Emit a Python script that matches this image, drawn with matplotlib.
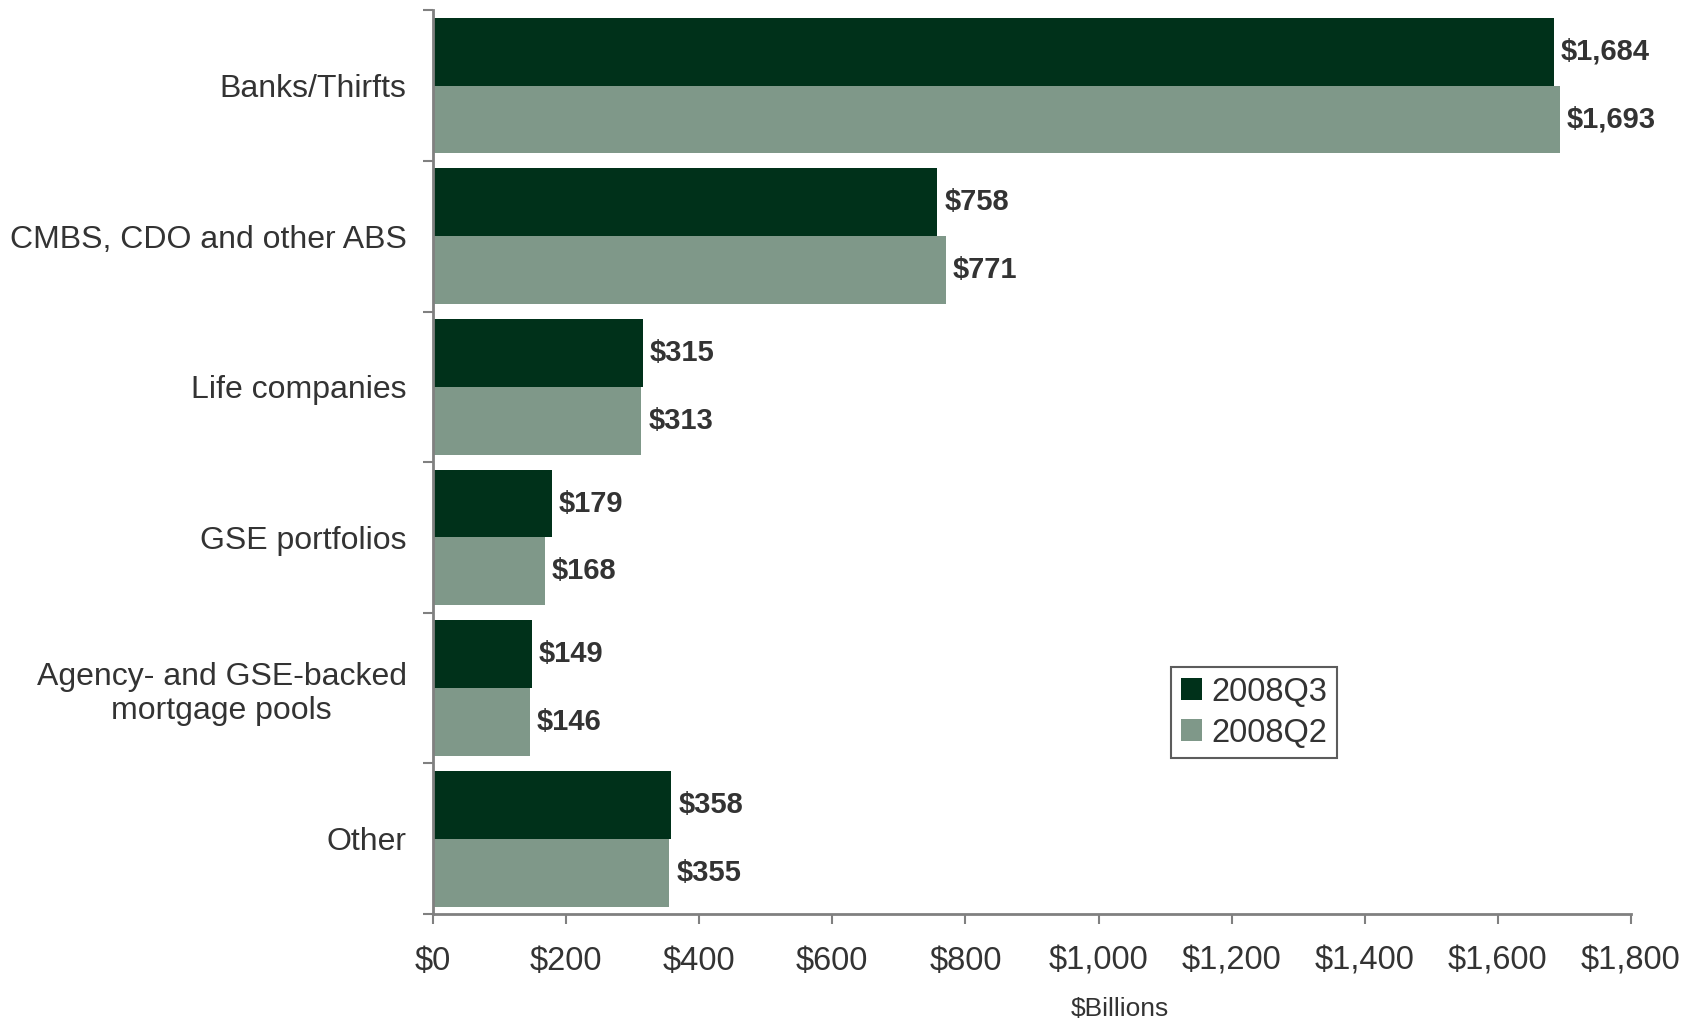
import matplotlib
matplotlib.use('Agg')
import matplotlib.pyplot as plt
import numpy as np

# Holdings by investor type, $ billions
categories = ['Banks/Thirfts', 'CMBS, CDO and other ABS', 'Life companies',
              'GSE portfolios', 'Agency- and GSE-backed\nmortgage pools', 'Other']
q3_values = [1684, 758, 315, 179, 149, 358]
q2_values = [1693, 771, 313, 168, 146, 355]
series_labels = ['2008Q3', '2008Q2']
x_ticks = [0, 200, 400, 600, 800, 1000, 1200, 1400, 1600, 1800]

dark_green = '#00311a'
sage = '#7f9889'
text_color = '#333333'
spine_color = '#808080'

plt.rcParams['font.family'] = ['Liberation Sans', 'DejaVu Sans']

fig = plt.figure(figsize=(16.88, 10.23), dpi=100)
ax = fig.add_axes([0.2565, 0.1065, 0.7097, 0.8835])

y = np.arange(len(categories))
h = 0.45
bars_q3 = ax.barh(y - h / 2, q3_values, height=h, color=dark_green, label=series_labels[0])
bars_q2 = ax.barh(y + h / 2, q2_values, height=h, color=sage, label=series_labels[1])

# value labels at bar ends
for bars, vals in ((bars_q3, q3_values), (bars_q2, q2_values)):
    for bar, v in zip(bars, vals):
        ax.annotate(f'${v:,}', (v, bar.get_y() + bar.get_height() / 2),
                    xytext=(5, 0), textcoords='offset points',
                    ha='left', va='center', fontsize=21, fontweight='bold',
                    color=text_color)

ax.set_xlim(0, 1800)
ax.set_ylim(len(categories) - 0.5, -0.5)

ax.set_xticks(x_ticks)
ax.set_xticklabels([f'${t:,}' for t in x_ticks], fontsize=23.5, color=text_color)
ax.tick_params(axis='x', direction='out', length=7, width=1.5, color=spine_color, pad=16)

# boundaries as major ticks, category names on minor ticks
ax.set_yticks(np.arange(-0.5, len(categories), 1.0))
ax.set_yticklabels([])
ax.set_yticks(y, minor=True)
ax.set_yticklabels(categories, minor=True, fontsize=23, color=text_color,
                   ha='right', multialignment='center')
ax.tick_params(axis='y', which='major', direction='out', length=7, width=1.5, color=spine_color)
ax.tick_params(axis='y', which='minor', length=0, pad=19)

for side in ('top', 'right'):
    ax.spines[side].set_visible(False)
for side in ('left', 'bottom'):
    ax.spines[side].set_color(spine_color)
    ax.spines[side].set_linewidth(2)

leg = ax.legend(loc='upper left', bbox_to_anchor=(1171 / 1688, 1 - 667 / 1023),
                bbox_transform=fig.transFigure, borderaxespad=0, fontsize=23.5,
                frameon=True, fancybox=False, edgecolor='#333333',
                handlelength=0.65, handleheight=0.65, handletextpad=0.3,
                labelspacing=0.3, borderpad=0.3)
leg.get_frame().set_linewidth(1.5)
for t in leg.get_texts():
    t.set_color(text_color)

fig.text(1120 / 1688, 1 - 1009 / 1023, '$Billions', ha='center', va='center',
         fontsize=19, color=text_color)

fig.savefig('out.png', dpi=100)
plt.close(fig)
